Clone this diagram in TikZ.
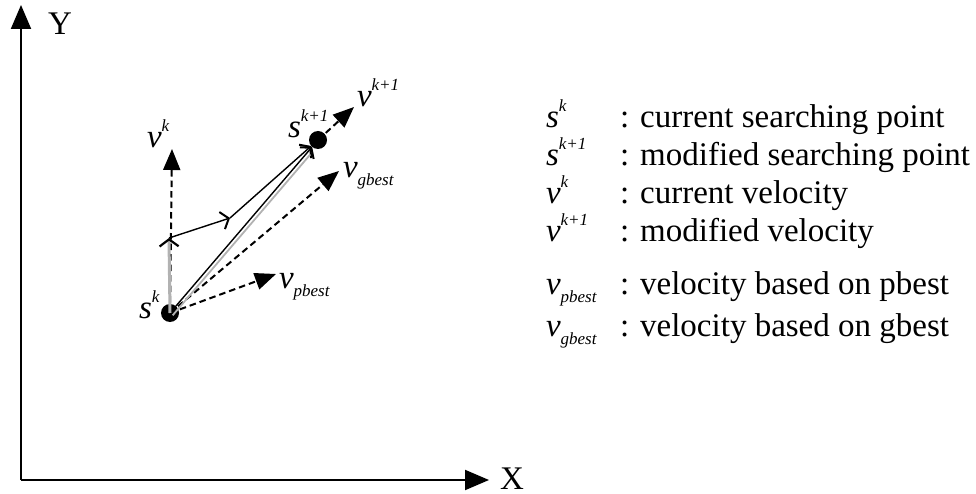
\documentclass[tikz,border=0pt]{standalone}
\usepackage{fontspec}
\setmainfont{Liberation Serif}
\usetikzlibrary{arrows.meta,calc}
\newcommand\lsup[2]{\textit{#1}\raisebox{16pt}{\fontsize{17}{17}\selectfont\textit{#2}}}
\newcommand\lsub[2]{\textit{#1}\raisebox{-8pt}{\fontsize{17}{17}\selectfont\textit{#2}}}
\tikzset{
  lbl/.style={inner sep=0pt, outer sep=0pt, anchor=base west, font=\fontsize{33}{36}\selectfont},
  axis/.style={line width=2pt, -{Triangle[length=24pt,width=20pt]}},
  dot/.style={circle, fill=black, minimum size=18pt, inner sep=0pt, outer sep=0pt},
  dasharr/.style={line width=2pt, dash pattern=on 6.5pt off 4pt, -{Triangle[length=21pt,width=17pt]}},
  thinarr/.style={line width=1.4pt, -{Straight Barb[length=7pt,width=18pt,line width=2pt]}},
  grayarr/.style={line width=3pt, gray!60, -{Straight Barb[length=7pt,width=19pt,line width=2.2pt,color=black]}},
  grayline/.style={line width=1.8pt, gray!60},
}
\begin{document}
\begin{tikzpicture}[x=1pt,y=-1pt]
\useasboundingbox (0,0) rectangle (976,494);
% axes
\coordinate (O) at (21,480);
\coordinate (Ytip) at (21,5);
\coordinate (Xtip) at (489,480);
\draw[axis] (O) -- (Ytip);
\draw[axis] (O) -- (Xtip);
\node[lbl] (ty) at (48,35) {Y};
\node[lbl] (tx) at (500,489) {X};
% points
\node[dot] (sk) at (170,313) {};
\node[dot] (sk1) at (318,140) {};
\coordinate (pk) at (169,238);
\coordinate (pm) at (230,218);
\coordinate (vk) at (172,149);
\coordinate (vk1) at (354,107);
\coordinate (vg) at (339,171);
\coordinate (vp) at (276,274);
% dashed velocities
\draw[dasharr] (sk.center) -- (vk);
\draw[dasharr] (sk1.center) -- (vk1);
\draw[dasharr] (sk.center) -- (vg);
\draw[dasharr] (sk.center) -- (vp);
% inertia and moves
\draw[grayarr] (sk.center) -- (pk);
\draw[thinarr] (pk) -- (pm);
\draw[thinarr] (pm) -- (sk1);
\draw[grayline] ([shift={(2.7,2.3)}]sk.center) -- ([shift={(2.7,2.3)}]$(sk.center)!0.93!(sk1.center)$);
\draw[thinarr] (sk) -- (sk1);
% labels in diagram
\node[lbl] (tsk) at (139,318) {\lsup{s}{k}};
\node[lbl] (tvk) at (147,148) {\lsup{v}{k}};
\node[lbl] (tsk1) at (288,138) {\lsup{s}{k+1}};
\node[lbl] (tvk1) at (357,107) {\lsup{v}{k+1}};
\node[lbl] (tvg) at (343,178) {\lsub{v}{gbest}};
\node[lbl] (tvp) at (279,288) {\lsub{v}{pbest}};
% legend
\node[lbl] (l1s) at (546,128) {\lsup{s}{k}};
\node[lbl] (l1t) at (620,128) {: current searching point};
\node[lbl] (l2s) at (546,166) {\lsup{s}{k+1}};
\node[lbl] (l2t) at (620,166) {: modified searching point};
\node[lbl] (l3s) at (546,204) {\lsup{v}{k}};
\node[lbl] (l3t) at (620,204) {: current velocity};
\node[lbl] (l4s) at (546,241) {\lsup{v}{k+1}};
\node[lbl] (l4t) at (620,241) {: modified velocity};
\node[lbl] (l5s) at (546,294) {\lsub{v}{pbest}};
\node[lbl] (l5t) at (620,294) {: velocity based on pbest};
\node[lbl] (l6s) at (546,336) {\lsub{v}{gbest}};
\node[lbl] (l6t) at (620,336) {: velocity based on gbest};
\end{tikzpicture}
\end{document}
